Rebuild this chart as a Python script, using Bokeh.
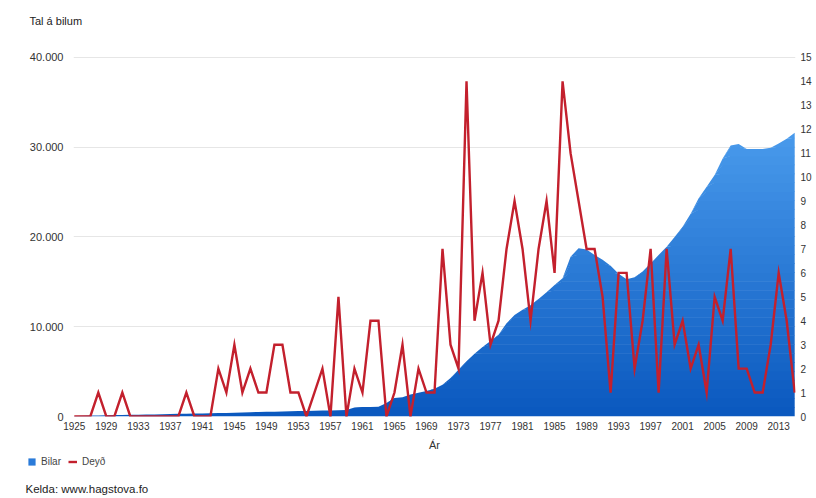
import numpy as np
from bokeh.plotting import figure
from bokeh.layouts import column
from bokeh.models import (Range1d, LinearAxis, FixedTicker, Title, Legend,
                          LegendItem, Label)
from bokeh.embed import file_html
from bokeh.resources import INLINE

years = list(range(1925, 2016))
bilar = [50, 80, 100, 120, 140, 160, 180, 190, 200, 210,
         230, 250, 280, 300, 320, 330, 340, 350, 380, 400,
         430, 450, 480, 500, 520, 540, 560, 580, 600, 620,
         640, 660, 680, 700, 720, 1000, 1050, 1050, 1100, 1500,
         2050, 2150, 2450, 2650, 2850, 3100, 3550, 4300, 5200, 6150,
         7000, 7750, 8400, 9100, 10400, 11300, 11900, 12400, 13100, 13850,
         14650, 15400, 17800, 18750, 18600, 18000, 17450, 16800, 15900, 15300,
         15500, 16150, 17050, 18000, 18900, 20000, 21150, 22600, 24300, 25600,
         26900, 28750, 30200, 30350, 29800, 29800, 29800, 29950, 30400, 30950,
         31600]
deyd = [0, 0, 0, 1, 0, 0, 1, 0, 0, 0,
        0, 0, 0, 0, 1, 0, 0, 0, 2, 1,
        3, 1, 2, 1, 1, 3, 3, 1, 1, 0,
        1, 2, 0, 5, 0, 2, 1, 4, 4, 0,
        1, 3, 0, 2, 1, 1, 7, 3, 2, 14,
        4, 6, 3, 4, 7, 9, 7, 4, 7, 9,
        6, 14, 11, 9, 7, 7, 5, 1, 6, 6,
        2, 4, 7, 1, 7, 3, 4, 2, 3, 1,
        5, 4, 7, 2, 2, 1, 1, 3, 6, 4,
        1]
x_ticks = list(range(1925, 2014, 4))
left_ticks = [0, 10000, 20000, 30000, 40000]
left_labels = ["0", "10.000", "20.000", "30.000", "40.000"]
right_ticks = list(range(0, 16))

FONT = "Liberation Sans"
BLUE_LEG = "#2a7bd9"
RED = "#c3202d"

# geometry (pixels)
W = 814
H1, H2 = 453, 43
F_LEFT, F_RIGHT, F_TOP, F_BOTTOM = 73, 795, 34, 417
GRID_TOP = 57
px_per_left = (F_BOTTOM - GRID_TOP) / 40000.0
px_per_right = (F_BOTTOM - GRID_TOP) / 15.0
y_end = 40000 + (GRID_TOP - F_TOP) / px_per_left
y2_end = 15 + (GRID_TOP - F_TOP) / px_per_right

p = figure(width=W, height=H1, output_backend="svg", toolbar_location=None,
           x_range=Range1d(1924.9, 2015.1), y_range=Range1d(0, y_end),
           min_border_left=F_LEFT, min_border_right=W - F_RIGHT,
           min_border_top=F_TOP, min_border_bottom=H1 - F_BOTTOM,
           background_fill_color="white", border_fill_color="white")
p.frame_align = False
p.outline_line_color = None
p.extra_y_ranges = {"deaths": Range1d(0, y2_end)}

# gradient-filled area built as stacked bands
x = np.array(years, dtype=float)
b = np.array(bilar, dtype=float)
bot = np.array([10, 88, 190])
top = np.array([90, 172, 248])
step = 1000
for lo in range(0, 40000, step):
    if lo >= b.max():
        break
    t = (lo + step / 2) / 40000.0
    c = bot + (top - bot) * t
    col = "#%02x%02x%02x" % tuple(int(round(v)) for v in c)
    p.varea(x=x, y1=np.minimum(b, lo), y2=np.minimum(b, lo + step + 60),
            fill_color=col, fill_alpha=1.0)

p.line(years, deyd, y_range_name="deaths", line_color=RED,
       line_width=2.4, line_join="miter")

# axes
p.xaxis.ticker = FixedTicker(ticks=x_ticks)
p.xaxis.axis_line_color = None
p.xaxis.major_tick_line_color = None
p.xaxis.major_tick_out = 0
p.xaxis.minor_tick_line_color = None
p.xaxis.minor_tick_out = 0
p.xaxis.major_label_text_font = FONT
p.xaxis.major_label_text_font_size = "10px"
p.xaxis.major_label_text_color = "#333333"
p.xaxis.major_label_standoff = 5
p.xaxis.axis_label = "Ár"
p.xaxis.axis_label_text_font = FONT
p.xaxis.axis_label_text_font_size = "11px"
p.xaxis.axis_label_text_font_style = "normal"
p.xaxis.axis_label_text_color = "#333333"
p.xaxis.axis_label_standoff = 6

p.yaxis.ticker = FixedTicker(ticks=left_ticks)
p.yaxis.major_label_overrides = {t: l for t, l in zip(left_ticks, left_labels)}
p.yaxis.axis_line_color = None
p.yaxis.major_tick_line_color = None
p.yaxis.major_tick_out = 0
p.yaxis.minor_tick_line_color = None
p.yaxis.minor_tick_out = 0
p.yaxis.major_label_text_font = FONT
p.yaxis.major_label_text_font_size = "11px"
p.yaxis.major_label_text_color = "#333333"
p.yaxis.major_label_standoff = 10

raxis = LinearAxis(y_range_name="deaths", ticker=FixedTicker(ticks=right_ticks))
raxis.axis_line_color = None
raxis.major_tick_line_color = None
raxis.major_tick_out = 0
raxis.minor_tick_line_color = None
raxis.minor_tick_out = 0
raxis.major_label_text_font = FONT
raxis.major_label_text_font_size = "10px"
raxis.major_label_text_color = "#333333"
raxis.major_label_standoff = 5
p.add_layout(raxis, "right")

p.xgrid.grid_line_color = None
p.ygrid.ticker = FixedTicker(ticks=left_ticks)
p.ygrid.grid_line_color = "#e6e6e6"
p.ygrid.grid_line_width = 1
p.ygrid.level = "underlay"

t1 = Title(text="Tal á bilum", align="left", offset=-44, standoff=15,
           text_font=FONT, text_font_size="11px", text_font_style="normal",
           text_color="#222222")
p.add_layout(t1, "above")

# lower strip: legend and source note
p2 = figure(width=W, height=H2, output_backend="svg", toolbar_location=None,
            x_range=Range1d(0, W), y_range=Range1d(0, H2),
            x_axis_type=None, y_axis_type=None,
            min_border_left=0, min_border_right=0, min_border_top=0,
            min_border_bottom=0, background_fill_color="white",
            border_fill_color="white")
p2.frame_align = False
p2.outline_line_color = None
p2.grid.visible = False

leg_area = p2.varea(x=[np.nan], y1=[np.nan], y2=[np.nan], fill_color=BLUE_LEG)
leg_line = p2.line(x=[np.nan], y=[np.nan], line_color=RED, line_width=2.4)

legend = Legend(items=[LegendItem(label="Bilar", renderers=[leg_area]),
                       LegendItem(label="Deyð", renderers=[leg_line])],
                orientation="horizontal", location=(27, H2 - 14),
                glyph_width=9, glyph_height=9, label_standoff=5, spacing=7,
                padding=1, margin=0, border_line_color=None,
                background_fill_alpha=0,
                label_text_font=FONT, label_text_font_size="10px",
                label_text_color="#444444")
p2.add_layout(legend, "center")

kelda = Label(x=25, y=H2 - (488 - H1), text="Kelda: www.hagstova.fo",
              text_baseline="middle", text_align="left",
              text_font=FONT, text_font_size="11.5px", text_color="#222222")
p2.add_layout(kelda)

layout = column(p, p2, spacing=0)
open("out.html", "w").write(file_html(layout, INLINE))
